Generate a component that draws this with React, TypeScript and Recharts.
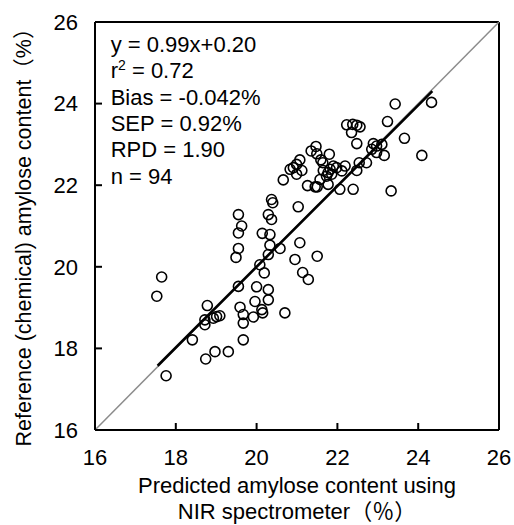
import { ScatterChart, Scatter, XAxis, YAxis, ReferenceLine, Label } from "recharts";

// NIR predicted vs reference (chemical) amylose content, %
const predicted = [
  23.43, 24.33, 23.24, 23.66, 24.09, 23.33, 22.23, 22.38, 22.48, 22.56,
  22.35, 22.48, 22.89, 22.97, 23.1, 22.85, 22.97, 23.16, 22.72, 22.54,
  22.48, 22.39, 22.06, 22.19, 22.11, 21.9, 21.98, 21.82, 21.86, 21.77,
  21.65, 21.73, 21.8, 21.77, 21.57, 21.5, 21.45, 21.26, 21.47, 21.35,
  21.49, 21.59, 21.64, 21.07, 20.99, 21.12, 20.99, 20.83, 20.91, 20.66,
  21.03, 20.37, 20.4, 20.29, 20.37, 19.55, 19.63, 19.55, 19.55, 19.49,
  20.14, 20.33, 20.33, 20.58, 20.29, 21.07, 20.95, 21.5, 20.08, 20.19,
  21.14, 21.28, 17.65, 17.53, 17.76, 18.41, 18.74, 18.97, 19.3, 18.78,
  18.72, 18.72, 18.93, 19.01, 19.09, 19.55, 19.59, 19.67, 19.67, 19.67,
  19.92, 19.96, 20.0, 20.13, 20.15, 20.29, 20.29, 20.7,
];
const reference = [
  23.99, 24.03, 23.56, 23.15, 22.73, 21.86, 23.48, 23.49, 23.47, 23.43,
  23.29, 23.02, 23.02, 22.96, 23.0, 22.88, 22.8, 22.73, 22.55, 22.55,
  22.36, 21.9, 21.9, 22.47, 22.35, 22.47, 22.43, 22.39, 22.27, 22.31,
  22.36, 22.22, 22.76, 22.02, 22.14, 21.96, 21.96, 21.99, 22.95, 22.84,
  22.77, 22.62, 22.55, 22.62, 22.51, 22.36, 22.27, 22.39, 22.43, 22.13,
  21.47, 21.65, 21.57, 21.28, 21.16, 21.28, 21.0, 20.83, 20.45, 20.23,
  20.82, 20.79, 20.53, 20.45, 20.3, 20.59, 20.18, 20.26, 20.05, 19.85,
  19.86, 19.69, 19.75, 19.28, 17.33, 18.21, 17.74, 17.92, 17.92, 19.05,
  18.7, 18.58, 18.74, 18.78, 18.8, 19.52, 19.01, 18.83, 18.62, 18.21,
  18.77, 19.15, 19.51, 18.95, 18.87, 19.44, 19.19, 18.87,
];

const ticks = [16, 18, 20, 22, 24, 26];
const slope = 0.99;
const intercept = 0.2;
const fitRange = [17.55, 24.35];
const statLines = ["y = 0.99x+0.20", "r2 = 0.72", "Bias = -0.042%", "SEP = 0.92%", "RPD = 1.90", "n = 94"];

const data = predicted.map((x, i) => ({ x, y: reference[i] }));
const fit = (x: number) => slope * x + intercept;

const FONT = "'Liberation Sans', Arial, 'Noto Sans CJK JP', sans-serif";

const Ring = (props: any) => (
  <circle cx={props.cx} cy={props.cy} r={5} fill="none" stroke="#000" strokeWidth={1.6} />
);

const tickStyle = { fill: "#000", fontSize: 22, fontFamily: FONT };

export default function App() {
  return (
    <div style={{ position: "absolute", left: 0, top: 0, width: 514, height: 525, background: "#fff" }}>
      <ScatterChart width={514} height={525} margin={{ top: 22, right: 15, bottom: 0, left: 35 }}>
        <XAxis
          type="number"
          dataKey="x"
          domain={[16, 26]}
          ticks={ticks}
          allowDataOverflow
          axisLine={{ stroke: "#000", strokeWidth: 2 }}
          tickLine={{ stroke: "#000", strokeWidth: 2 }}
          tickSize={-7}
          tickMargin={26}
          tick={tickStyle}
          height={95}
          interval={0}
        >
          <Label
            content={({ viewBox }: any) => {
              const cx = viewBox.x + viewBox.width / 2;
              return (
                <text textAnchor="middle" fontSize={22} fontFamily={FONT} fill="#000">
                  <tspan x={cx} y={viewBox.y + 63}>Predicted amylose content using</tspan>
                  <tspan x={cx} y={viewBox.y + 89}>NIR spectrometer（％）</tspan>
                </text>
              );
            }}
          />
        </XAxis>
        <YAxis
          type="number"
          dataKey="y"
          domain={[16, 26]}
          ticks={ticks}
          allowDataOverflow
          axisLine={{ stroke: "#000", strokeWidth: 2 }}
          tickLine={{ stroke: "#000", strokeWidth: 2 }}
          tickSize={-7}
          tickMargin={24}
          tick={tickStyle}
          width={60}
          interval={0}
        >
          <Label
            content={({ viewBox }: any) => {
              const cx = viewBox.x - 4;
              const cy = viewBox.y + viewBox.height / 2 + 6;
              return (
                <text
                  x={cx}
                  y={cy}
                  textAnchor="middle"
                  fontSize={21.5}
                  fontFamily={FONT}
                  fill="#000"
                  transform={`rotate(-90, ${cx}, ${cy})`}
                >
                  Reference (chemical) amylose content（%）
                </text>
              );
            }}
          />
        </YAxis>
        <ReferenceLine x={26} stroke="#000" strokeWidth={2} ifOverflow="visible" />
        <ReferenceLine y={26} stroke="#000" strokeWidth={2} ifOverflow="visible" />
        <ReferenceLine
          segment={[{ x: 16, y: 16 }, { x: 26, y: 26 }]}
          stroke="#8c8c8c"
          strokeWidth={1.5}
        />
        <ReferenceLine
          segment={[
            { x: fitRange[0], y: fit(fitRange[0]) },
            { x: fitRange[1], y: fit(fitRange[1]) },
          ]}
          stroke="#000"
          strokeWidth={2.6}
        />
        <Scatter data={data} shape={Ring} isAnimationActive={false} />
      </ScatterChart>
      <svg width={514} height={525} style={{ position: "absolute", left: 0, top: 0, pointerEvents: "none" }}>
        <text fontSize={22} fontFamily={FONT} fill="#000">
          {statLines.map((s, i) => {
            const y = 51.7 + i * 26.4;
            if (s.startsWith("r2")) {
              return (
                <tspan key={s} x={110.7} y={y}>
                  r<tspan dy={-8} fontSize={14}>2</tspan>
                  <tspan dy={8}>{s.slice(2)}</tspan>
                </tspan>
              );
            }
            return (
              <tspan key={s} x={110.7} y={y}>
                {s}
              </tspan>
            );
          })}
        </text>
      </svg>
    </div>
  );
}
